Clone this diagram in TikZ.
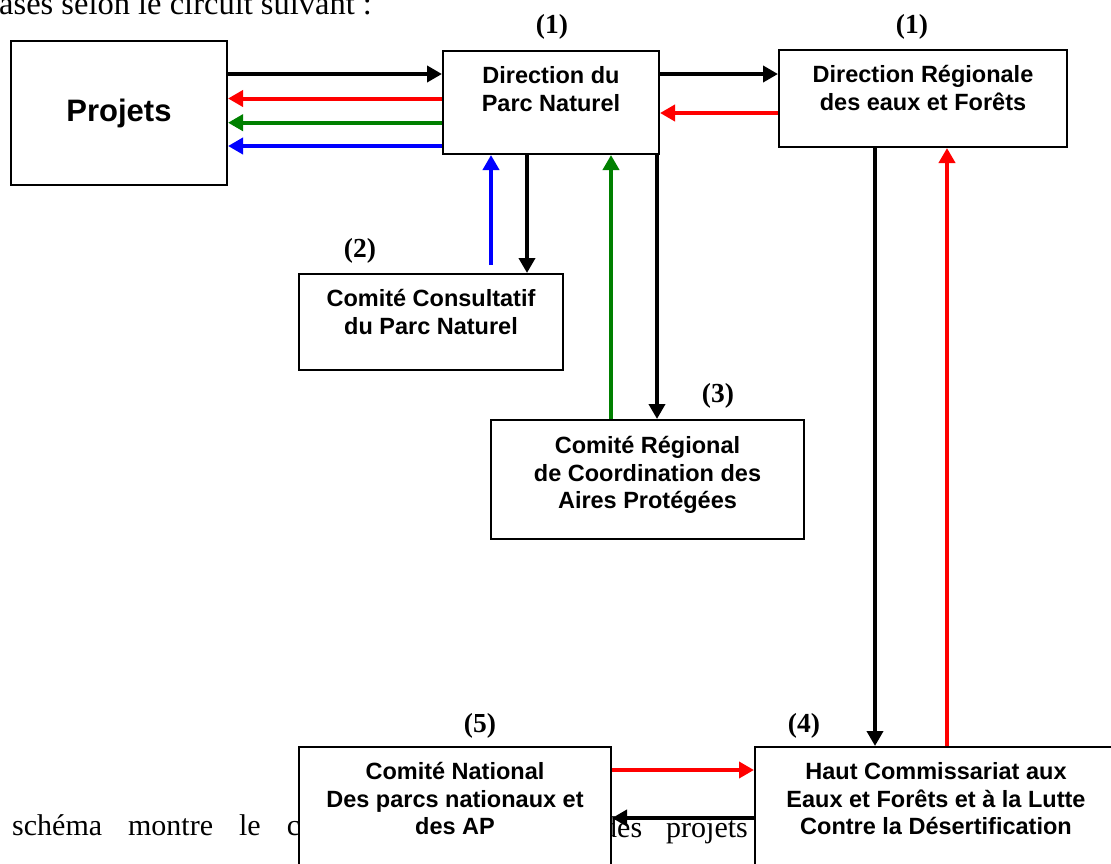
\documentclass[tikz,border=0pt]{standalone}
\usepackage{fontspec}
\setsansfont{Liberation Sans}
\newfontfamily\numfont{Liberation Serif}
\usetikzlibrary{arrows.meta,positioning}
\definecolor{red}{HTML}{FF0000}
\definecolor{green}{HTML}{008000}
\definecolor{blue}{HTML}{0000FF}

\begin{document}
\begin{tikzpicture}[x=1pt,y=-1pt,
  box/.style={draw,line width=2pt,fill=white,anchor=north west,inner sep=0pt},
  boxtext/.style={align=center,inner sep=0pt,font=\sffamily\bfseries\fontsize{23.5}{27.5}\selectfont},
  numlabel/.style={anchor=base,inner sep=0pt,font=\numfont\bfseries\fontsize{27.5}{32}\selectfont},
  pagetext/.style={anchor=base west,inner sep=0pt,font=\numfont\fontsize{30}{36}\selectfont},
  link/.style={line width=4pt,-{Triangle[length=15pt,width=16pt]}}]
  \useasboundingbox (0,0) rectangle (1111,863);
  \fill[white] (0,0) rectangle (1111,863);
  \clip (0,0) rectangle (1111,863);

  % texte de la page
  \node[pagetext,font=\numfont\fontsize{32.5}{38}\selectfont] (toptext) at (-1,14) {ases selon le circuit suivant :};
  \node[pagetext] (bottext) at (12,835) {schéma\hspace{26pt}montre\hspace{26pt}le\hspace{26pt}c};
  \node[pagetext] (bottext2) at (602,837) {des\hspace{24pt}projets};

  \node[box,minimum width=216pt,minimum height=144pt,font=\sffamily\bfseries\fontsize{31}{36}\selectfont] (projets) at (10,40) {Projets};
  \node[box,minimum width=216pt,minimum height=103pt] (parc) at (442,50) {};
  \node[box,minimum width=288pt,minimum height=97pt] (regionale) at (778,49) {};
  \node[box,minimum width=264pt,minimum height=96pt] (consult) at (298,273) {};
  \node[box,minimum width=313pt,minimum height=119pt] (crcap) at (490,419) {};
  \node[box,minimum width=312pt,minimum height=140pt] (national) at (298,746) {};
  \node[box,minimum width=362pt,minimum height=140pt] (hcefld) at (754,746) {};

  \node[boxtext,below=16.5pt of parc.north] (parctxt) {Direction du\\Parc Naturel};
  \node[boxtext,below=16.5pt of regionale.north] (regionaletxt) {Direction Régionale\\des eaux et Forêts};
  \node[boxtext,below=16.5pt of consult.north] (consulttxt) {Comité Consultatif\\du Parc Naturel};
  \node[boxtext,below=17.5pt of crcap.north] (crcaptxt) {Comité Régional\\de Coordination des\\Aires Protégées};
  \node[boxtext,below=16.5pt of national.north] (nationaltxt) {Comité National\\Des parcs nationaux et\\des AP};
  \node[boxtext,below=16.5pt of hcefld.north] (hcefldtxt) {Haut Commissariat aux\\Eaux et Forêts et à la Lutte\\Contre la Désertification};

  \node[numlabel] (n1) at (552,33) {(1)};
  \node[numlabel] (n1b) at (912,33) {(1)};
  \node[numlabel] (n2) at (360,257) {(2)};
  \node[numlabel] (n3) at (718,402) {(3)};
  \node[numlabel] (n4) at (804,732) {(4)};
  \node[numlabel] (n5) at (480,732) {(5)};

  % Projets <-> Direction du Parc
  \draw[link] ([yshift=39pt]projets.east) -- ([yshift=39pt]projets.east -| parc.west);
  \draw[link,red] ([yshift=14.5pt]projets.east -| parc.west) -- ([yshift=14.5pt]projets.east);
  \draw[link,green] ([yshift=-9.7pt]projets.east -| parc.west) -- ([yshift=-9.7pt]projets.east);
  \draw[link,blue] ([yshift=-33pt]projets.east -| parc.west) -- ([yshift=-33pt]projets.east);

  % Direction du Parc <-> Direction Regionale
  \draw[link] ([yshift=28.5pt]parc.east) -- ([yshift=28.5pt]parc.east -| regionale.west);
  \draw[link,red] ([yshift=-10.5pt]parc.east -| regionale.west) -- ([yshift=-10.5pt]parc.east);

  % comites (2) et (3)
  \coordinate (bluefoot) at ([xshift=60pt,yshift=8pt]consult.north);
  \draw[link,blue] (bluefoot) -- (bluefoot |- parc.south);
  \draw[link] ([xshift=-24pt]parc.south) -- ([xshift=-24pt]parc.south |- consult.north);
  \draw[link,green] ([xshift=60pt]parc.south |- crcap.north) -- ([xshift=60pt]parc.south);
  \draw[link] ([xshift=106pt]parc.south) -- ([xshift=106pt]parc.south |- crcap.north);

  % Direction Regionale <-> HCEFLD
  \draw[link] ([xshift=-48pt]regionale.south) -- ([xshift=-48pt]regionale.south |- hcefld.north);
  \draw[link,red] ([xshift=24pt]regionale.south |- hcefld.north) -- ([xshift=24pt]regionale.south);

  % comite national (5) <-> HCEFLD (4)
  \draw[link,red] ([yshift=47pt]national.east) -- ([yshift=47pt]national.east -| hcefld.west);
  \draw[link] ([yshift=-1pt]national.east -| hcefld.west) -- ([yshift=-1pt]national.east);
\end{tikzpicture}
\end{document}
